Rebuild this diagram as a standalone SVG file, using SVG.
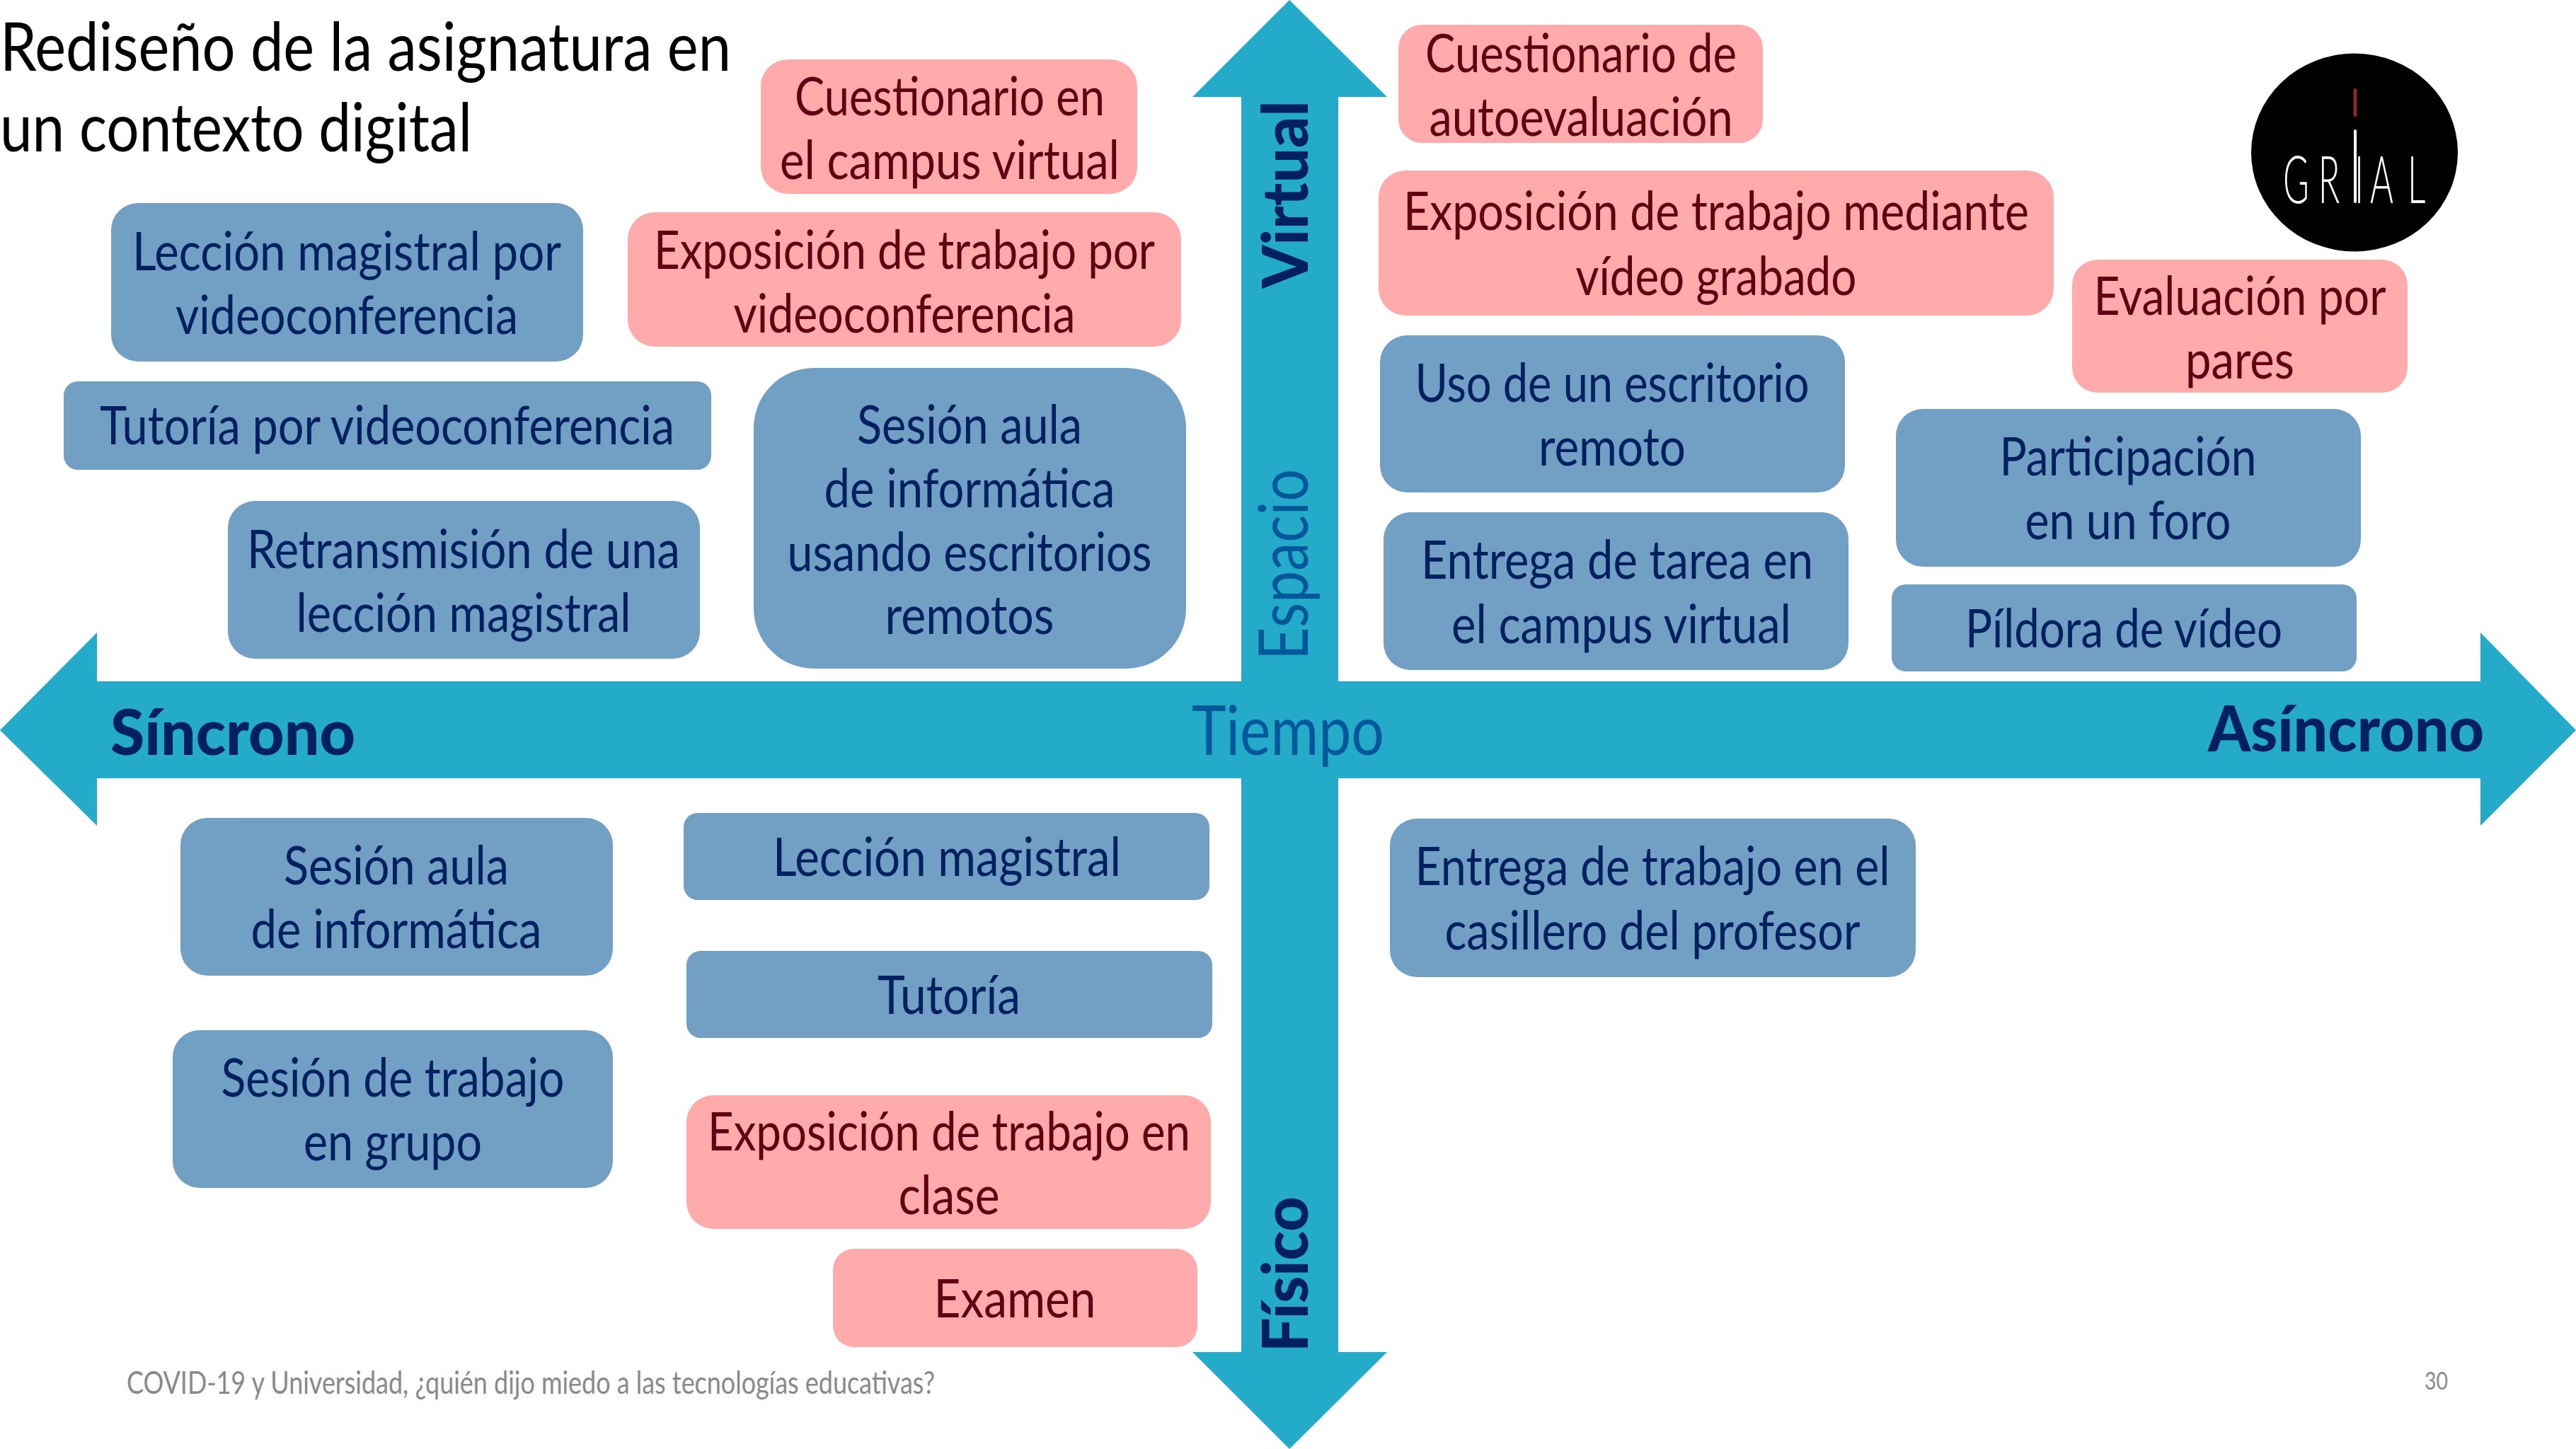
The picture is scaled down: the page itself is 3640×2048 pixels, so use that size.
<svg xmlns="http://www.w3.org/2000/svg" width="3640" height="2048" viewBox="0 0 3640 2048">
<style>
text{font-family:"Lato","Liberation Sans",sans-serif;text-anchor:middle}
.b{fill:#729fc4}.p{fill:#ffabab}
.tb{fill:#002060;font-size:75px;font-weight:400}
.tp{fill:#600010;font-size:75px;font-weight:400}
.ax{fill:#24abc9}
.lab{fill:#00589a;font-size:96px;font-weight:400}
.bold{fill:#002060;font-size:90px;font-weight:900}
.title{fill:#000;font-size:95px;font-weight:400;text-anchor:start}
.foot{fill:#898989;font-size:44px;font-weight:400;text-anchor:start}
</style>
<rect width="3640" height="2048" fill="#fff"/>
<g id="connectors">
<polygon class="ax" points="0,1032 137,894 137,963 1754,963 1754,137 1685,137 1822,0 1960,137 1891,137 1891,963 3505,963 3505,894 3640,1032 3505,1167 3505,1100 1891,1100 1891,1911 1960,1911 1822,2048 1685,1911 1754,1911 1754,1100 137,1100 137,1167"/>
</g>
<g id="axis-labels">
<text class="lab" x="1820" y="1067" textLength="272" lengthAdjust="spacingAndGlyphs">Tiempo</text>
<text class="lab" transform="translate(1848,798) rotate(-90)" textLength="270" lengthAdjust="spacingAndGlyphs">Espacio</text>
<text class="bold" transform="translate(1848,275) rotate(-90)" textLength="265" lengthAdjust="spacingAndGlyphs">Virtual</text>
<text class="bold" transform="translate(1848,1801) rotate(-90)" textLength="220" lengthAdjust="spacingAndGlyphs">Físico</text>
<text class="bold" x="329" y="1067" textLength="346" lengthAdjust="spacingAndGlyphs">Síncrono</text>
<text class="bold" x="3315" y="1062" textLength="390" lengthAdjust="spacingAndGlyphs">Asíncrono</text>
</g>
<g id="title"><text class="title" x="0" y="100" textLength="1033" lengthAdjust="spacingAndGlyphs">Rediseño de la asignatura en</text>
<text class="title" x="0" y="214" textLength="667" lengthAdjust="spacingAndGlyphs">un contexto digital</text></g>
<g id="n1"><rect class="p" x="1075" y="84" width="532" height="190" rx="38"/><text class="tp" x="1342" y="163" textLength="438" lengthAdjust="spacingAndGlyphs">Cuestionario en</text><text class="tp" x="1342" y="253" textLength="480" lengthAdjust="spacingAndGlyphs">el campus virtual</text></g>
<g id="n2"><rect class="p" x="887" y="300" width="782" height="190" rx="38"/><text class="tp" x="1278" y="380" textLength="708" lengthAdjust="spacingAndGlyphs">Exposición de trabajo por</text><text class="tp" x="1278" y="470" textLength="483" lengthAdjust="spacingAndGlyphs">videoconferencia</text></g>
<g id="n3"><rect class="b" x="157" y="287" width="667" height="224" rx="38"/><text class="tb" x="490" y="382" textLength="606" lengthAdjust="spacingAndGlyphs">Lección magistral por</text><text class="tb" x="490" y="472" textLength="484" lengthAdjust="spacingAndGlyphs">videoconferencia</text></g>
<g id="n4"><rect class="b" x="90" y="539" width="915" height="125" rx="20"/><text class="tb" x="547" y="628" textLength="812" lengthAdjust="spacingAndGlyphs">Tutoría por videoconferencia</text></g>
<g id="n5"><rect class="b" x="1065" y="520" width="611" height="425" rx="85"/><text class="tb" x="1370" y="627" textLength="318" lengthAdjust="spacingAndGlyphs">Sesión aula</text><text class="tb" x="1370" y="717" textLength="411" lengthAdjust="spacingAndGlyphs">de informática</text><text class="tb" x="1370" y="807" textLength="515" lengthAdjust="spacingAndGlyphs">usando escritorios</text><text class="tb" x="1370" y="896" textLength="239" lengthAdjust="spacingAndGlyphs">remotos</text></g>
<g id="n6"><rect class="b" x="322" y="708" width="667" height="223" rx="38"/><text class="tb" x="655" y="803" textLength="612" lengthAdjust="spacingAndGlyphs">Retransmisión de una</text><text class="tb" x="655" y="893" textLength="473" lengthAdjust="spacingAndGlyphs">lección magistral</text></g>
<g id="n7"><rect class="p" x="1976" y="35" width="515" height="167" rx="33"/><text class="tp" x="2234" y="102" textLength="440" lengthAdjust="spacingAndGlyphs">Cuestionario de</text><text class="tp" x="2234" y="192" textLength="429" lengthAdjust="spacingAndGlyphs">autoevaluación</text></g>
<g id="n8"><rect class="p" x="1948" y="241" width="954" height="205" rx="38"/><text class="tp" x="2425" y="325" textLength="884" lengthAdjust="spacingAndGlyphs">Exposición de trabajo mediante</text><text class="tp" x="2425" y="417" textLength="397" lengthAdjust="spacingAndGlyphs">vídeo grabado</text></g>
<g id="n9"><rect class="p" x="2928" y="367" width="474" height="188" rx="36"/><text class="tp" x="3165" y="445" textLength="413" lengthAdjust="spacingAndGlyphs">Evaluación por</text><text class="tp" x="3165" y="535" textLength="154" lengthAdjust="spacingAndGlyphs">pares</text></g>
<g id="n10"><rect class="b" x="1950" y="474" width="657" height="222" rx="38"/><text class="tb" x="2278" y="568" textLength="557" lengthAdjust="spacingAndGlyphs">Uso de un escritorio</text><text class="tb" x="2278" y="658" textLength="208" lengthAdjust="spacingAndGlyphs">remoto</text></g>
<g id="n11"><rect class="b" x="1955" y="724" width="657" height="223" rx="38"/><text class="tb" x="2285" y="818" textLength="554" lengthAdjust="spacingAndGlyphs">Entrega de tarea en</text><text class="tb" x="2291" y="909" textLength="480" lengthAdjust="spacingAndGlyphs">el campus virtual</text></g>
<g id="n12"><rect class="b" x="2679" y="578" width="657" height="223" rx="38"/><text class="tb" x="3007" y="672" textLength="363" lengthAdjust="spacingAndGlyphs">Participación</text><text class="tb" x="3007" y="762" textLength="291" lengthAdjust="spacingAndGlyphs">en un foro</text></g>
<g id="n13"><rect class="b" x="2673" y="826" width="657" height="123" rx="20"/><text class="tb" x="3001" y="915" textLength="448" lengthAdjust="spacingAndGlyphs">Píldora de vídeo</text></g>
<g id="n14"><rect class="b" x="255" y="1156" width="611" height="223" rx="38"/><text class="tb" x="560" y="1250" textLength="318" lengthAdjust="spacingAndGlyphs">Sesión aula</text><text class="tb" x="560" y="1340" textLength="411" lengthAdjust="spacingAndGlyphs">de informática</text></g>
<g id="n15"><rect class="b" x="966" y="1149" width="743" height="123" rx="20"/><text class="tb" x="1338" y="1238" textLength="492" lengthAdjust="spacingAndGlyphs">Lección magistral</text></g>
<g id="n16"><rect class="b" x="970" y="1344" width="743" height="123" rx="20"/><text class="tb" x="1341" y="1433" textLength="202" lengthAdjust="spacingAndGlyphs">Tutoría</text></g>
<g id="n17"><rect class="b" x="244" y="1456" width="622" height="223" rx="38"/><text class="tb" x="555" y="1550" textLength="485" lengthAdjust="spacingAndGlyphs">Sesión de trabajo</text><text class="tb" x="555" y="1640" textLength="252" lengthAdjust="spacingAndGlyphs">en grupo</text></g>
<g id="n18"><rect class="p" x="970" y="1548" width="741" height="189" rx="38"/><text class="tp" x="1341" y="1626" textLength="682" lengthAdjust="spacingAndGlyphs">Exposición de trabajo en</text><text class="tp" x="1341" y="1716" textLength="143" lengthAdjust="spacingAndGlyphs">clase</text></g>
<g id="n19"><rect class="p" x="1177" y="1765" width="515" height="139" rx="30"/><text class="tp" x="1434" y="1862" textLength="229" lengthAdjust="spacingAndGlyphs">Examen</text></g>
<g id="n20"><rect class="b" x="1964" y="1157" width="743" height="224" rx="38"/><text class="tb" x="2335" y="1251" textLength="671" lengthAdjust="spacingAndGlyphs">Entrega de trabajo en el</text><text class="tb" x="2335" y="1342" textLength="587" lengthAdjust="spacingAndGlyphs">casillero del profesor</text></g>
<g id="footer"><text class="foot" x="179" y="1970" textLength="1142" lengthAdjust="spacingAndGlyphs">COVID-19 y Universidad, ¿quién dijo miedo a las tecnologías educativas?</text>
<text class="foot" x="3426" y="1964" style="font-size:34px" textLength="33" lengthAdjust="spacingAndGlyphs">30</text></g>
<g id="logo"><ellipse cx="3327" cy="215.5" rx="146" ry="140" fill="#000"/>
<rect x="3325.500" y="125" width="5" height="40" rx="2.500" fill="#8b2a2a"/>
<rect x="3326" y="183" width="4" height="104" rx="2" fill="#fff"/>
<text transform="translate(3226,287) scale(.54,1)" x="0 92 187 228 326" y="0" style="text-anchor:start;font-size:93px;font-weight:300;fill:#fff">GRIAL</text></g>
</svg>
